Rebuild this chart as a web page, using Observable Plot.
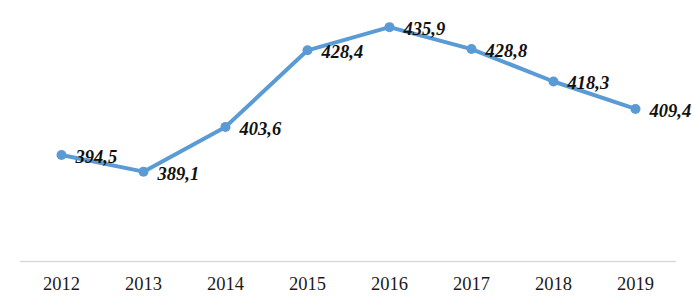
<!DOCTYPE html>
<html>
<head>
<meta charset="utf-8">
<script src="https://cdn.jsdelivr.net/npm/d3@7"></script>
<script src="https://cdn.jsdelivr.net/npm/@observablehq/plot@0.6"></script>
<style>
  html, body { margin: 0; padding: 0; background: #fff; }
</style>
</head>
<body>
<div id="chart"></div>
<script>
const years = ["2012", "2013", "2014", "2015", "2016", "2017", "2018", "2019"];
const values = [394.5, 389.1, 403.6, 428.4, 435.9, 428.8, 418.3, 409.4];

const data = years.map((year, i) => ({ year, value: values[i] }));
const fmt = v => d3.format(".1f")(v).replace(".", ",");
const serif = "'Liberation Serif', 'Times New Roman', serif";
const blue = "#5b9bd5";

const chart = Plot.plot({
  width: 692,
  height: 300,
  marginTop: 14,
  marginBottom: 39,
  marginLeft: 20,
  marginRight: 16,
  style: { fontFamily: serif, fontSize: "18px", color: "#222", background: "#fff" },
  x: { type: "point", domain: years, padding: 0.5, label: null },
  y: { domain: [360, 440], axis: null },
  marks: [
    Plot.ruleY([360], { stroke: "#d9d9d9", strokeWidth: 1.5 }),
    Plot.axisX({ tickSize: 0, tickPadding: 15, fontSize: 18.5, fontFamily: serif, fill: "#1a1a1a", label: null }),
    Plot.line(data, { x: "year", y: "value", stroke: blue, strokeWidth: 4, strokeLinejoin: "round" }),
    Plot.dot(data, { x: "year", y: "value", r: 5, fill: blue, stroke: null }),
    Plot.text(data, {
      x: "year", y: "value", text: d => fmt(d.value),
      textAnchor: "start", dx: 14, dy: 2,
      fontSize: 18.5, fontWeight: "bold", fontStyle: "italic", fontFamily: serif, fill: "#111"
    })
  ]
});
document.getElementById("chart").appendChild(chart);
</script>
</body>
</html>
